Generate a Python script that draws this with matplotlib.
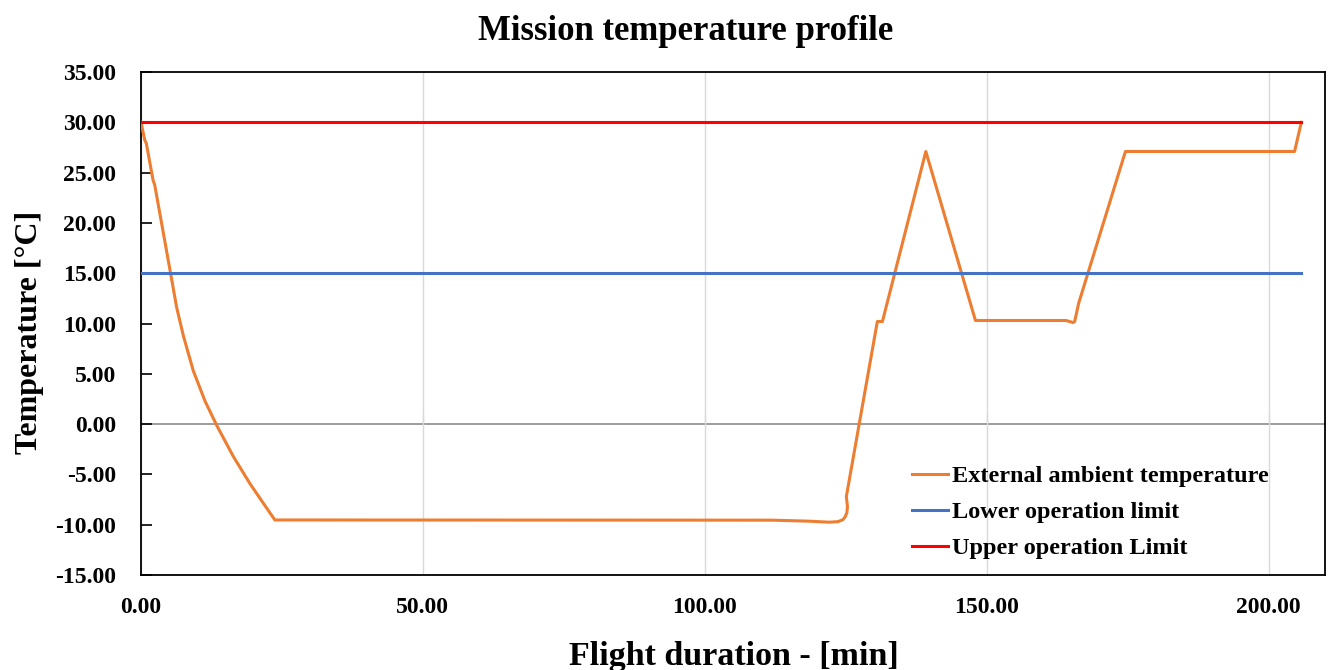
import matplotlib
matplotlib.use("Agg")
import matplotlib.pyplot as plt

# flight profile digitised at the breakpoints (minutes, degC)
flight_time = [0.0, 0.66, 0.94, 2.13, 2.43, 5.08, 6.32, 7.5, 9.27,
               11.34, 13.4, 16.35, 19.3, 21.67, 23.74,
               112.0, 118.5, 122.0, 123.6, 124.5, 124.9, 125.2, 125.3, 125.1,
               130.6, 131.5, 139.2, 148.0, 164.0, 164.7, 165.3, 165.6, 166.3,
               174.6, 204.6, 205.8]
ambient_temp = [30.0, 28.24, 27.9, 24.26, 23.77, 15.49, 11.6, 8.8, 5.3,
                2.3, -0.1, -3.2, -5.9, -7.85, -9.53,
                -9.55, -9.65, -9.75, -9.7, -9.5, -9.2, -8.8, -8.2, -7.2,
                10.2, 10.2, 27.1, 10.3, 10.3, 10.2, 10.1, 10.2, 12.0,
                27.1, 27.1, 30.0]

limit_time = [0.0, 205.8]
lower_limit = [15.0, 15.0]
upper_limit = [30.0, 30.0]

x_ticks = [0, 50, 100, 150, 200]
y_ticks = [-15, -10, -5, 0, 5, 10, 15, 20, 25, 30, 35]

plt.rcParams['font.family'] = ['Liberation Serif', 'DejaVu Serif']
plt.rcParams['font.weight'] = 'bold'

fig = plt.figure(figsize=(13.33, 6.70), dpi=100)
ax = fig.add_axes([0.1058, 0.1418, 0.8882, 0.7507])

ax.plot(flight_time, ambient_temp, color='#ED7D31', lw=2.2,
        label='External ambient temperature', zorder=3)
ax.plot(limit_time, lower_limit, color='#4472C4', lw=2.2,
        label='Lower operation limit', zorder=3)
ax.plot(limit_time, upper_limit, color='#FF0000', lw=2.2,
        label='Upper operation Limit', zorder=3)

ax.set_xlim(0, 210)
ax.set_ylim(-15, 35)
ax.set_xticks(x_ticks)
ax.set_xticklabels([f"{v:.2f}" for v in x_ticks])
ax.set_yticks(y_ticks)
ax.set_yticklabels([f"{v:.2f}" for v in y_ticks])

ax.xaxis.grid(True, color='#d9d9d9', lw=1.0)
ax.set_axisbelow(True)
ax.tick_params(axis='x', length=0, labelsize=17, pad=16)
ax.tick_params(axis='y', direction='in', length=8, width=1.2, labelsize=17, pad=18)
for s in ax.spines.values():
    s.set_linewidth(1.3)

# horizontal axis crossing at 0 degC
zero_pos = (0 - ax.get_ylim()[0]) / (ax.get_ylim()[1] - ax.get_ylim()[0])
sec = ax.secondary_xaxis(zero_pos)
sec.set_xticks(x_ticks)
sec.spines['bottom'].set_color('#8c8c8c')
sec.spines['bottom'].set_linewidth(1.2)
sec.tick_params(direction='in', length=7, color='#8c8c8c', labelbottom=False)

fig.text(686 / 1333, 1 - 32 / 670, 'Mission temperature profile',
         fontsize=25, fontweight='bold', ha='center', va='center')
fig.text(734 / 1333, 1 - 657 / 670, 'Flight duration - [min]',
         fontsize=24.5, fontweight='bold', ha='center', va='center')
fig.text(30 / 1333, 1 - 332 / 670, 'Temperature [°C]', rotation=90,
         fontsize=23, fontweight='bold', ha='center', va='center')

ax.legend(loc='upper left', bbox_to_anchor=(0.651, 0.218), frameon=False,
          fontsize=17.5, handlelength=1.5, handletextpad=0.17, labelspacing=0.57,
          borderaxespad=0, borderpad=0)

fig.savefig('out.png', dpi=100)
